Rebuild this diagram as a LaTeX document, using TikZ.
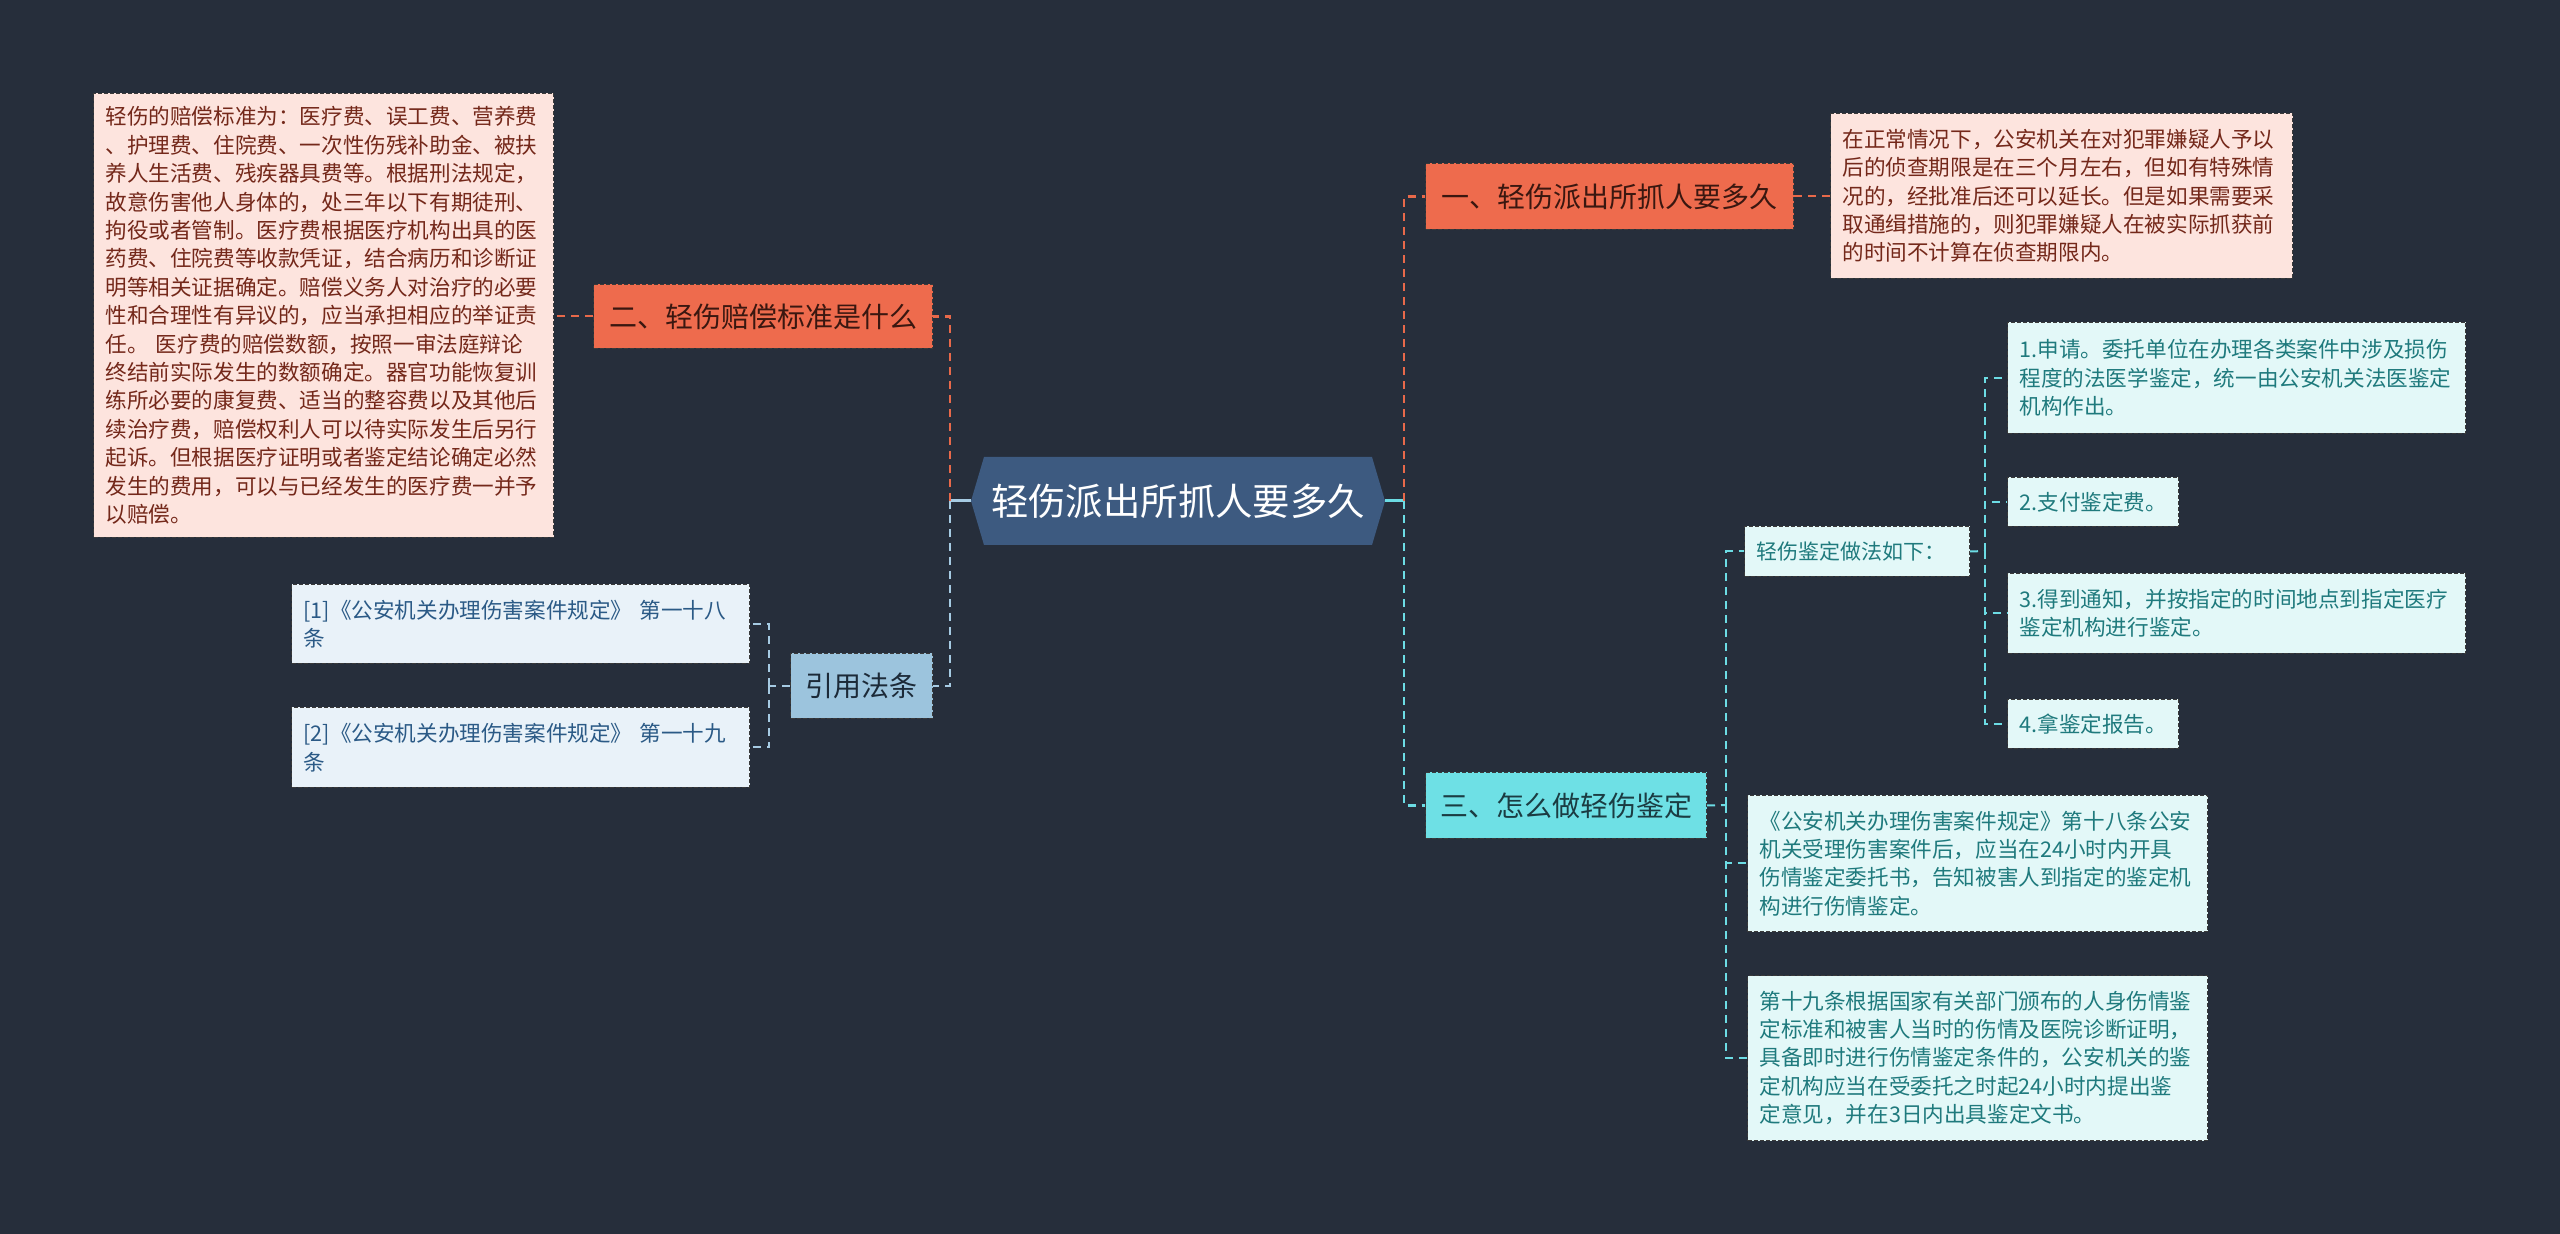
\documentclass[tikz,border=0pt]{standalone}
\usepackage{fontspec}
\setmainfont{Noto Sans CJK SC}

\definecolor{bgdark}{HTML}{262E3B}
\definecolor{rootblue}{HTML}{3D5A80}
\definecolor{orangefill}{HTML}{EE6B4D}
\definecolor{orangetext}{HTML}{3A1710}
\definecolor{pinkfill}{HTML}{FDE4DE}
\definecolor{pinktext}{HTML}{74281A}
\definecolor{cyanfill}{HTML}{6EE0E5}
\definecolor{cyantext}{HTML}{1B3C42}
\definecolor{lightcyan}{HTML}{E3F8F8}
\definecolor{tealtext}{HTML}{1F7A7D}
\definecolor{bluefill}{HTML}{9CC4DD}
\definecolor{bluetext}{HTML}{1C2A38}
\definecolor{reffill}{HTML}{E9F2F9}
\definecolor{reftext}{HTML}{2B5A86}
\definecolor{linkorange}{HTML}{E8694A}
\definecolor{linkcyan}{HTML}{6CDCE4}
\definecolor{linkblue}{HTML}{A6CBE3}
\definecolor{boxedge}{HTML}{3A3A3A}

\tikzset{
  box/.style={draw=boxedge, line width=0.5pt, dash pattern=on 2pt off 1pt,
    inner xsep=6pt, inner ysep=0pt, anchor=north west},
  textbox/.style={box, align=left, font=\fontsize{10.8pt}{14.2pt}\selectfont},
  pinkbox/.style={textbox, fill=pinkfill, text=pinktext},
  tealbox/.style={textbox, fill=lightcyan, text=tealtext},
  refbox/.style={textbox, fill=reffill, text=reftext},
  labelbox/.style={box, align=center, font=\fontsize{14pt}{17pt}\selectfont},
  orangebox/.style={labelbox, fill=orangefill, text=orangetext},
  cyanbox/.style={labelbox, fill=cyanfill, text=cyantext},
  citebox/.style={labelbox, fill=bluefill, text=bluetext},
  link/.style={line width=1pt, dash pattern=on 4pt off 3pt},
  trunk/.style={line width=1.4pt, dash pattern=on 4pt off 3pt},
  rootlink/.style={line width=1.5pt},
}

\begin{document}
\begin{tikzpicture}[x=0.5pt, y=-0.5pt]

    % Background, the size of the picture
    \fill[bgdark] (0,0) rectangle (2560,1234);
    \useasboundingbox (0,0) rectangle (2560,1234);

    % Central topic: hexagon drawn first, text on top
    \fill[rootblue] (971,501) -- (984,457) -- (1372,457) -- (1385,501)
        -- (1372,545) -- (984,545) -- cycle;
    \node[minimum width=207pt, minimum height=44pt, inner sep=0pt, text=white,
        font=\fontsize{18.7pt}{22pt}\selectfont] (root) at (1178,501) {轻伤派出所抓人要多久};

    % Left branch
    \node[orangebox, minimum width=169.5pt, minimum height=32pt] (two) at (593,284) {二、轻伤赔偿标准是什么};
    \node[pinkbox, text width=218pt, minimum height=222pt] (pinkL) at (93,93) {%
        轻伤的赔偿标准为：医疗费、误工费、营养费\\
        、护理费、住院费、一次性伤残补助金、被扶\\
        养人生活费、残疾器具费等。根据刑法规定，\\
        故意伤害他人身体的，处三年以下有期徒刑、\\
        拘役或者管制。医疗费根据医疗机构出具的医\\
        药费、住院费等收款凭证，结合病历和诊断证\\
        明等相关证据确定。赔偿义务人对治疗的必要\\
        性和合理性有异议的，应当承担相应的举证责\\
        任。 医疗费的赔偿数额，按照一审法庭辩论\\
        终结前实际发生的数额确定。器官功能恢复训\\
        练所必要的康复费、适当的整容费以及其他后\\
        续治疗费，赔偿权利人可以待实际发生后另行\\
        起诉。但根据医疗证明或者鉴定结论确定必然\\
        发生的费用，可以与已经发生的医疗费一并予\\
        以赔偿。};

    \node[citebox, minimum width=71pt, minimum height=32.5pt] (cite) at (790,653) {引用法条};
    \node[refbox, text width=217pt, minimum height=39.5pt] (ref1) at (291,584) {%
        [1]《公安机关办理伤害案件规定》 第一十八\\条};
    \node[refbox, text width=217pt, minimum height=40pt] (ref2) at (291,707) {%
        [2]《公安机关办理伤害案件规定》 第一十九\\条};

    % Right branch
    \node[orangebox, minimum width=184pt, minimum height=33pt] (one) at (1425,163) {一、轻伤派出所抓人要多久};
    \node[pinkbox, text width=219pt, minimum height=82.5pt] (pinkR) at (1830,113) {%
        在正常情况下，公安机关在对犯罪嫌疑人予以\\
        后的侦查期限是在三个月左右，但如有特殊情\\
        况的，经批准后还可以延长。但是如果需要采\\
        取通缉措施的，则犯罪嫌疑人在被实际抓获前\\
        的时间不计算在侦查期限内。};

    \node[cyanbox, minimum width=140.5pt, minimum height=33pt] (three) at (1425,772) {三、怎么做轻伤鉴定};
    \node[tealbox, text width=100.5pt, minimum height=25pt,
        font=\fontsize{10.5pt}{14pt}\selectfont] (how) at (1744,526) {轻伤鉴定做法如下：};

    % Steps of the appraisal
    \node[tealbox, text width=217pt, minimum height=55.5pt] (proc1) at (2007,322) {%
        1.申请。委托单位在办理各类案件中涉及损伤\\
        程度的法医学鉴定，统一由公安机关法医鉴定\\
        机构作出。};
    \node[tealbox, text width=73.5pt, minimum height=24.5pt] (proc2) at (2007,477) {2.支付鉴定费。};
    \node[tealbox, text width=217pt, minimum height=40pt] (proc3) at (2007,573) {%
        3.得到通知，并按指定的时间地点到指定医疗\\
        鉴定机构进行鉴定。};
    \node[tealbox, text width=73.5pt, minimum height=24.5pt] (proc4) at (2007,699) {4.拿鉴定报告。};

    % The two articles of the rules
    \node[tealbox, text width=218pt, minimum height=68pt] (law18) at (1747,795) {%
        《公安机关办理伤害案件规定》第十八条公安\\
        机关受理伤害案件后，应当在24小时内开具\\
        伤情鉴定委托书，告知被害人到指定的鉴定机\\
        构进行伤情鉴定。};
    \node[tealbox, text width=218pt, minimum height=82.5pt] (law19) at (1747,975) {%
        第十九条根据国家有关部门颁布的人身伤情鉴\\
        定标准和被害人当时的伤情及医院诊断证明，\\
        具备即时进行伤情鉴定条件的，公安机关的鉴\\
        定机构应当在受委托之时起24小时内提出鉴\\
        定意见，并在3日内出具鉴定文书。};

    % Trunk points of the connectors
    \coordinate (rtrunk) at (1404,501);
    \coordinate (ltrunk) at (950,501);
    \coordinate (ctrunk) at (769,686);
    \coordinate (ttrunk) at (1726,805);
    \coordinate (htrunk) at (1985,551);

    % Root to both sides
    \draw[rootlink, linkcyan] (root.east) -- (rtrunk);
    \draw[rootlink, linkblue] (root.west) -- (ltrunk);
    \draw[trunk, linkorange] (rtrunk) |- (one.west);
    \draw[trunk, linkcyan] (rtrunk) |- (three.west);
    \draw[trunk, linkorange] (ltrunk) |- (two.east);
    \draw[trunk, linkblue] (ltrunk) |- (cite.east);

    % Topics to their details
    \draw[link, linkorange] (two.west) -- (two.west -| pinkL.east);
    \draw[link, linkorange] (one.east) -- (one.east -| pinkR.west);
    \draw[link, linkblue] (cite.west) -- (ctrunk);
    \draw[link, linkblue] (ctrunk) |- (ref1.east);
    \draw[link, linkblue] (ctrunk) |- (ref2.east);
    \draw[link, linkcyan] (three.east) -- (ttrunk);
    \draw[link, linkcyan] (ttrunk) |- (how.west);
    \draw[link, linkcyan] (ttrunk) |- (law18.west);
    \draw[link, linkcyan] (ttrunk) |- (law19.west);
    \draw[link, linkcyan] (how.east) -- (htrunk);
    \draw[link, linkcyan] (htrunk) |- (proc1.west);
    \draw[link, linkcyan] (htrunk) |- (proc2.west);
    \draw[link, linkcyan] (htrunk) |- (proc3.west);
    \draw[link, linkcyan] (htrunk) |- (proc4.west);

\end{tikzpicture}
\end{document}
